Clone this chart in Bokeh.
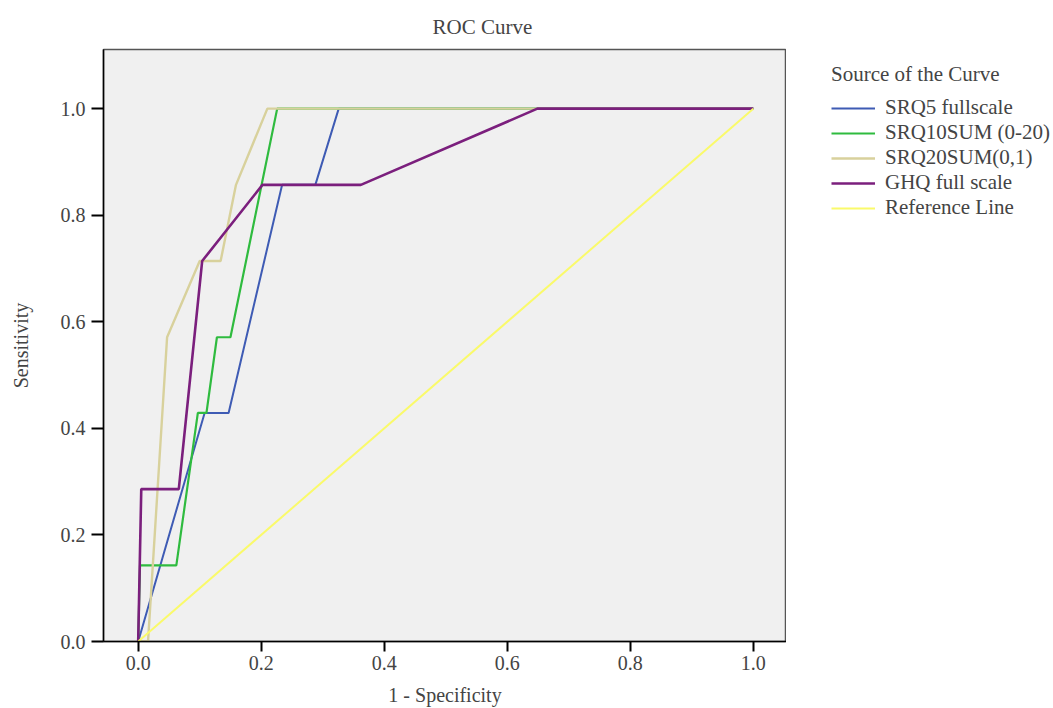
from bokeh.plotting import figure
from bokeh.models import Range1d, Legend, LegendItem, Title, FixedTicker, NumeralTickFormatter
from bokeh.layouts import row
from bokeh.embed import file_html
from bokeh.resources import INLINE

# ---- data ----
srq5_x = [0, 0.108, 0.147, 0.234, 0.288, 0.326, 1.0]
srq5_y = [0, 0.429, 0.429, 0.857, 0.857, 1.0, 1.0]

srq10_x = [0, 0.003, 0.062, 0.097, 0.111, 0.128, 0.150, 0.226, 1.0]
srq10_y = [0, 0.143, 0.143, 0.429, 0.429, 0.571, 0.571, 1.0, 1.0]

srq20_x = [0, 0.016, 0.047, 0.100, 0.134, 0.159, 0.210, 1.0]
srq20_y = [0, 0, 0.571, 0.714, 0.714, 0.857, 1.0, 1.0]

ghq_x = [0, 0.005, 0.066, 0.104, 0.202, 0.362, 0.649, 1.0]
ghq_y = [0, 0.286, 0.286, 0.714, 0.857, 0.857, 1.0, 1.0]

ref_x = [0, 1]
ref_y = [0, 1]

series_names = ["SRQ5 fullscale", "SRQ10SUM (0-20)", "SRQ20SUM(0,1)", "GHQ full scale", "Reference Line"]
series_colors = ["#3e5bb4", "#2fbb3f", "#d8d19c", "#7b1f7d", "#fafa6a"]
series_widths = [2.0, 2.2, 2.4, 2.6, 2.0]
tick_vals = [0.0, 0.2, 0.4, 0.6, 0.8, 1.0]

FONT = "Liberation Serif"
H = 708

p = figure(width=786, height=H, output_backend="svg", toolbar_location=None,
           x_range=Range1d(-0.0564, 1.054), y_range=Range1d(0, 1.111),
           min_border_left=103, min_border_right=0, min_border_top=49, min_border_bottom=67)

p.background_fill_color = "#f0f0f0"
p.border_fill_color = "white"
p.outline_line_color = "#555555"
p.outline_line_width = 1.5
p.grid.visible = False

p.add_layout(Title(text="ROC Curve", align="left", offset=329, text_font=FONT,
                   text_font_size="21px", text_font_style="normal", standoff=22), "above")

for ax in (p.xaxis[0], p.yaxis[0]):
    ax.ticker = FixedTicker(ticks=tick_vals)
    ax.formatter = NumeralTickFormatter(format="0.0")
    ax.axis_label_text_font = FONT
    ax.axis_label_text_font_size = "20px"
    ax.axis_label_text_font_style = "normal"
    ax.major_label_text_font = FONT
    ax.major_label_text_font_size = "20px"
    ax.axis_line_color = "black"
    ax.axis_line_width = 1.5
    ax.major_tick_line_color = "black"
    ax.major_tick_line_width = 2
    ax.major_tick_in = 0
    ax.minor_tick_line_color = None

p.xaxis[0].axis_label = "1 - Specificity"
p.yaxis[0].axis_label = "Sensitivity"
p.xaxis[0].major_tick_out = 10
p.yaxis[0].major_tick_out = 12
p.xaxis[0].major_label_standoff = 4
p.yaxis[0].major_label_standoff = 6
p.xaxis[0].axis_label_standoff = 11
p.yaxis[0].axis_label_standoff = 26

xs = [srq5_x, srq10_x, srq20_x, ghq_x, ref_x]
ys = [srq5_y, srq10_y, srq20_y, ghq_y, ref_y]
for x, y, c, w in zip(xs, ys, series_colors, series_widths):
    p.line(x, y, line_color=c, line_width=w)

# legend panel (separate figure to the right; its view range keeps the lines out of sight)
p2 = figure(width=1053 - 786, height=H, output_backend="svg", toolbar_location=None,
            x_axis_location=None, y_axis_location=None, min_border=0,
            x_range=Range1d(10, 11), y_range=Range1d(10, 11))
p2.outline_line_color = None
p2.grid.visible = False
p2.background_fill_color = "white"

keys = [p2.line(x, y, line_color=c, line_width=w)
        for x, y, c, w in zip(xs, ys, series_colors, series_widths)]
items = [LegendItem(label=n, renderers=[r]) for n, r in zip(series_names, keys)]
legend = Legend(items=items, location=(45, 421), title="Source of the Curve",
                title_text_font=FONT, title_text_font_size="21px", title_text_font_style="normal",
                title_standoff=8,
                label_text_font=FONT, label_text_font_size="21px",
                glyph_width=44, glyph_height=24, label_height=24, spacing=0,
                label_standoff=10, padding=0, margin=0,
                background_fill_alpha=0, border_line_color=None)
p2.add_layout(legend)

layout = row(p, p2, spacing=0)
open("out.html", "w").write(file_html(layout, INLINE))
